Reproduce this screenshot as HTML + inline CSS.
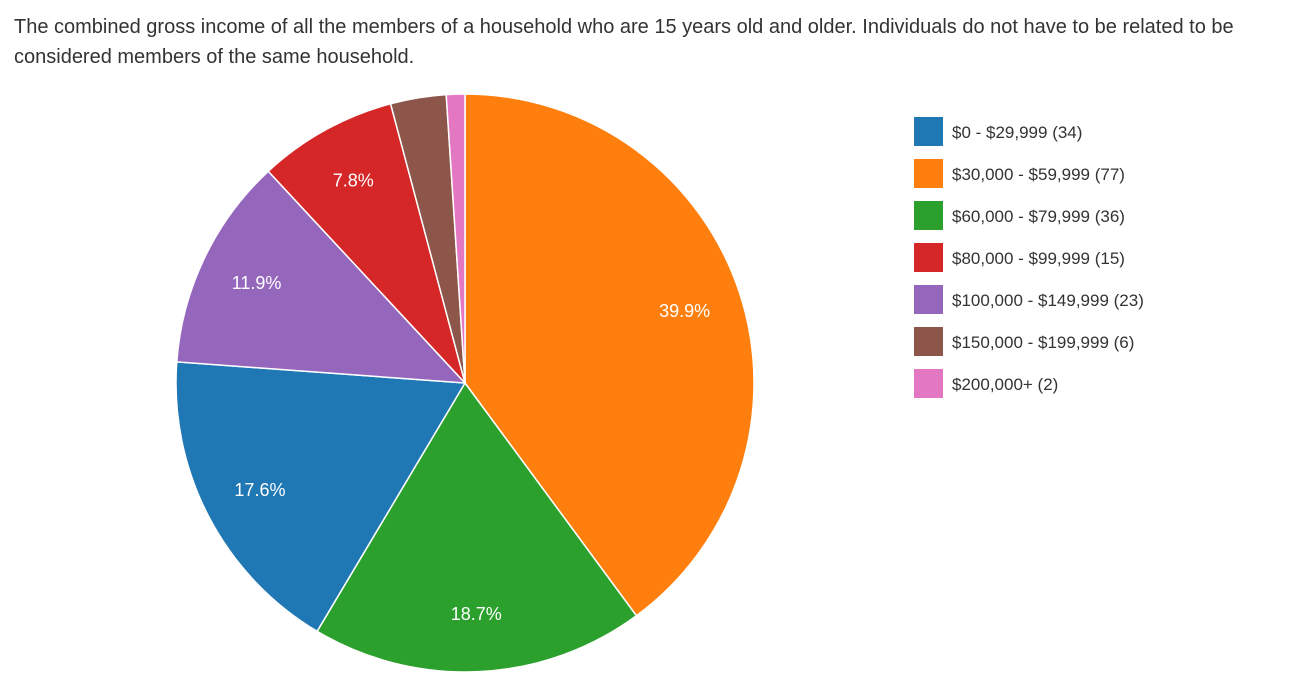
<!DOCTYPE html>
<html><head><meta charset="utf-8"><style>
body{margin:0;background:#fff;width:1316px;height:700px;overflow:hidden;font-family:"Liberation Sans",Arial,sans-serif}
#title{position:absolute;left:14px;top:12px;width:1300px;font-size:20px;line-height:30px;color:#333}
</style></head><body>
<div id="title">The combined gross income of all the members of a household who are 15 years old and older. Individuals do not have to be related to be considered members of the same household.</div>
<svg id="chart" width="1316" height="700" style="position:absolute;left:0;top:0"></svg>
<script>
const categories=["$0 - $29,999","$30,000 - $59,999","$60,000 - $79,999","$80,000 - $99,999","$100,000 - $149,999","$150,000 - $199,999","$200,000+"];
const values=[34,77,36,15,23,6,2];
const colors=["#1f77b4","#ff7f0e","#2ca02c","#d62728","#9467bd","#8c564b","#e377c2"];
const NS="http://www.w3.org/2000/svg";
const svg=document.getElementById('chart');
const cx=465,cy=383,R=289;
const total=values.reduce((a,b)=>a+b,0);
const order=values.map((v,i)=>i).sort((a,b)=>values[b]-values[a]);
let a0=0;
function pt(a,r){return [cx+r*Math.sin(a),cy-r*Math.cos(a)];}
order.forEach(i=>{
  const frac=values[i]/total,a1=a0+frac*2*Math.PI;
  const p0=pt(a0,R),p1=pt(a1,R);
  const path=document.createElementNS(NS,'path');
  path.setAttribute('d',`M${cx},${cy}L${p0[0]},${p0[1]}A${R},${R} 0 ${frac>0.5?1:0} 1 ${p1[0]},${p1[1]}Z`);
  path.setAttribute('fill',colors[i]);path.setAttribute('stroke','#fff');path.setAttribute('stroke-width','1.5');
  
  
  svg.appendChild(path);
  if(frac>0.05){
    const lp=pt((a0+a1)/2,R*0.8);
    const t=document.createElementNS(NS,'text');
    t.setAttribute('x',lp[0]);t.setAttribute('y',lp[1]+6);t.setAttribute('text-anchor','middle');
    t.setAttribute('fill','#fff');t.setAttribute('font-size','18');
    t.textContent=(frac*100).toFixed(1)+'%';
    
    
    svg.appendChild(t);
  }
  a0=a1;
});
categories.forEach((c,i)=>{
  const y=117+i*42;
  const g=document.createElementNS(NS,'g');
  
  
  const r=document.createElementNS(NS,'rect');
  r.setAttribute('x',914);r.setAttribute('y',y);r.setAttribute('width',29);r.setAttribute('height',29);r.setAttribute('fill',colors[i]);
  g.appendChild(r);
  const t=document.createElementNS(NS,'text');
  t.setAttribute('x',952);t.setAttribute('y',y+21);t.setAttribute('font-size','17');t.setAttribute('fill','#333');
  t.textContent=c+' ('+values[i]+')';
  g.appendChild(t);
  svg.appendChild(g);
});
</script>
</body></html>
